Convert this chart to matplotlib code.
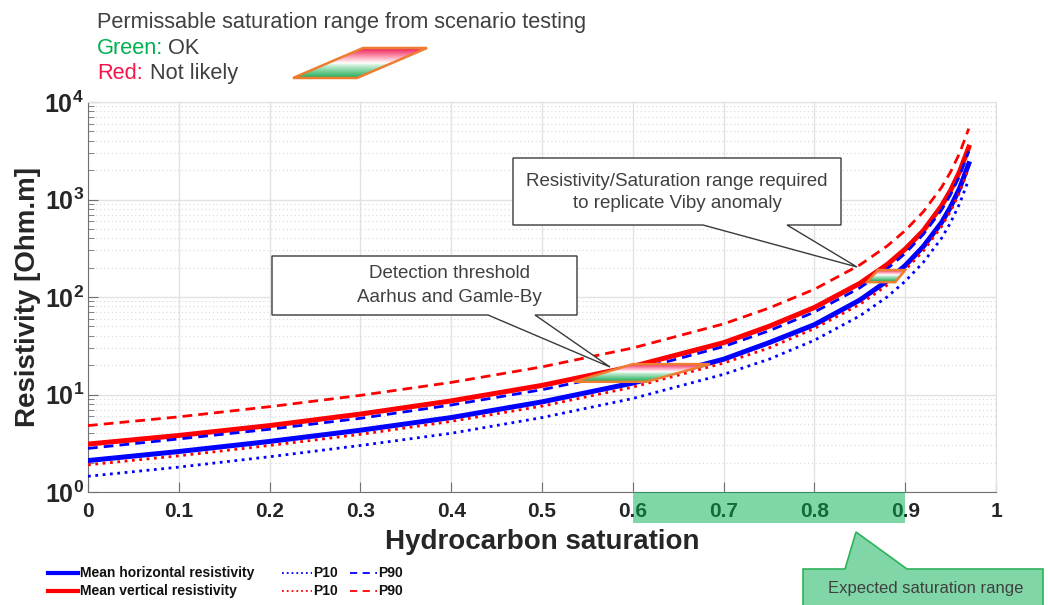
import numpy as np
import matplotlib
matplotlib.use("Agg")
import matplotlib.pyplot as plt
from matplotlib import transforms
from matplotlib.colors import LinearSegmentedColormap
from matplotlib.lines import Line2D
from matplotlib.patches import Polygon, Rectangle
from matplotlib.ticker import FixedLocator, FuncFormatter, LogLocator, NullFormatter

plt.rcParams["font.family"] = ["Liberation Sans", "DejaVu Sans"]
plt.rcParams["mathtext.fontset"] = "custom"
plt.rcParams["mathtext.rm"] = "Liberation Sans"
plt.rcParams["mathtext.bf"] = "Liberation Sans:bold"

# hydrocarbon saturation vs resistivity (Ohm.m)
saturation = [0, 0.1, 0.2, 0.3, 0.4, 0.5, 0.6, 0.7, 0.75, 0.8, 0.85, 0.88, 0.9, 0.92, 0.94, 0.95, 0.96, 0.97]
mean_h = [2.1, 2.6, 3.3, 4.3, 5.8, 8.4, 13.1, 23, 34, 52, 93, 146, 210, 330, 580, 840, 1310, 2330]
mean_v = [3.1, 3.8, 4.8, 6.3, 8.6, 12.4, 19.4, 34, 50, 78, 138, 215, 310, 480, 860, 1240, 1940, 3440]
p10_h = [1.45, 1.8, 2.3, 3.0, 4.0, 5.8, 9.1, 16.1, 23, 36, 64, 100, 145, 227, 400, 580, 910, 1610]
p90_h = [2.8, 3.5, 4.4, 5.7, 7.8, 11.2, 17.5, 31, 45, 70, 124, 194, 280, 440, 780, 1120, 1750, 3110]
p10_v = [1.9, 2.35, 3.0, 3.9, 5.3, 7.6, 11.9, 21, 30, 47.5, 84, 132, 190, 297, 528, 760, 1190, 2110]
p90_v = [4.8, 5.9, 7.5, 9.8, 13.3, 19.2, 30, 53, 77, 120, 213, 333, 480, 750, 1330, 1920, 3000, 5330]

x_ticks = [0, 0.1, 0.2, 0.3, 0.4, 0.5, 0.6, 0.7, 0.8, 0.9, 1]
x_tick_labels = ["0", "0.1", "0.2", "0.3", "0.4", "0.5", "0.6", "0.7", "0.8", "0.9", "1"]
y_ticks = [1, 10, 100, 1000, 10000]

# permissable ranges: (bottom-left S, bottom-right S, top-left S, top-right S, R bottom, R top)
detection_range = (0.535, 0.615, 0.60, 0.685, 13.5, 20.5)
viby_range = (0.858, 0.889, 0.870, 0.900, 142, 189)
expected_range = (0.6, 0.9)

W, H = 1048, 605
TXT = "#404040"
ORANGE = "#ed7d31"

grad_cmap = LinearSegmentedColormap.from_list(
    "okred", [(0, "#1faa55"), (0.4, "#bfeccf"), (0.5, "#ffffff"),
              (0.62, "#ffc6d4"), (1, "#ee1c55")])


def gradient_poly(axis, verts, bottom, top, transform, z):
    poly = Polygon(verts, closed=True, facecolor="none", edgecolor=ORANGE,
                   lw=1.8, transform=transform, zorder=z + 1)
    axis.add_patch(poly)
    xs = [v[0] for v in verts]
    grad = np.linspace(0, 1, 256).reshape(-1, 1)
    img = axis.imshow(grad, cmap=grad_cmap, origin="lower", aspect="auto",
                      extent=(min(xs), max(xs), bottom, top),
                      transform=transform, zorder=z, interpolation="bilinear")
    img.set_clip_path(poly)


fig = plt.figure(figsize=(W / 100, H / 100), dpi=100)
ax = fig.add_axes([88 / W, 1 - 492 / H, (996 - 88) / W, (492 - 102) / H])

ax.plot(saturation, mean_h, color="blue", lw=3.6, zorder=3)
ax.plot(saturation, mean_v, color="red", lw=3.6, zorder=3)
ax.plot(saturation, p10_h, color="blue", lw=2, ls=":", zorder=4)
ax.plot(saturation, p90_h, color="blue", lw=2, dashes=(3.5, 2.2), zorder=4)
ax.plot(saturation, p10_v, color="red", lw=2, ls=":", zorder=4)
ax.plot(saturation, p90_v, color="red", lw=2, dashes=(3.5, 2.2), zorder=4)

for bl, br, tl, tr, rb, rt in (detection_range, viby_range):
    gradient_poly(ax, [(bl, rb), (br, rb), (tr, rt), (tl, rt)], rb, rt, ax.transData, 6)

ax.set_yscale("log")
ax.set_xlim(0, 1)
ax.set_ylim(1, 1e4)
ax.xaxis.set_major_locator(FixedLocator(x_ticks))
ax.set_xticklabels(x_tick_labels)
ax.yaxis.set_major_locator(FixedLocator(y_ticks))
ax.yaxis.set_minor_locator(LogLocator(base=10, subs=np.arange(2, 10)))
ax.yaxis.set_minor_formatter(NullFormatter())
ax.yaxis.set_major_formatter(FuncFormatter(lambda v, p: r"$\mathbf{10^{%d}}$" % round(np.log10(v))))

ax.grid(which="major", color="#e2e2e2", lw=1, ls="-")
ax.grid(which="minor", axis="y", color="#dadada", lw=0.8, dashes=(1, 2.5))
ax.set_axisbelow(True)
ax.tick_params(axis="both", which="major", direction="in", length=7, color="#707070",
               labelcolor="#262626")
ax.tick_params(axis="x", labelsize=15, pad=7)
ax.tick_params(axis="y", labelsize=18, pad=3)
ax.tick_params(axis="y", which="minor", direction="in", length=4, color="#707070")
for lab in ax.get_xticklabels():
    lab.set_fontweight("bold")
for side in ("top", "right"):
    ax.spines[side].set_color("#e0e0e0")
for side in ("left", "bottom"):
    ax.spines[side].set_color("#707070")

ax.set_xlabel("Hydrocarbon saturation", fontsize=20, fontweight="bold", color="#262626", labelpad=6)
ax.set_ylabel("Resistivity [Ohm.m]", fontsize=20, fontweight="bold", color="#262626", labelpad=2)

# overlay in pixel coordinates for annotations
ov = fig.add_axes([0, 0, 1, 1], zorder=10)
ov.set_xlim(0, W)
ov.set_ylim(H, 0)
ov.axis("off")
ov.patch.set_alpha(0)

ov.text(97, 28, "Permissable saturation range from scenario testing", fontsize=15.7, color=TXT, va="baseline")
ov.text(97, 54, "Green:", fontsize=15.7, color="#00b050", va="baseline")
ov.text(168, 54, "OK", fontsize=15.7, color=TXT, va="baseline")
ov.text(97, 79, "Red:", fontsize=15.7, color="#f5144b", va="baseline")
ov.text(150, 79, "Not likely", fontsize=15.7, color=TXT, va="baseline")
gradient_poly(ov, [(293, 78), (357, 78), (427, 48), (363, 48)], 78, 48, ov.transData, 11)

# callouts
det_box = [(272, 256), (577, 256), (577, 315), (535, 315), (610, 367), (488, 315), (272, 315)]
ov.add_patch(Polygon(det_box, closed=True, facecolor="white", edgecolor="#3a3a3a", lw=1, zorder=12))
ov.text(449.5, 274, "Detection threshold", fontsize=13.5, color=TXT, ha="center", va="center", zorder=13)
ov.text(449.5, 297, "Aarhus and Gamle-By", fontsize=13.5, color=TXT, ha="center", va="center", zorder=13)

viby_box = [(513, 158), (841, 158), (841, 225), (787, 225), (857, 267), (703, 225), (513, 225)]
ov.add_patch(Polygon(viby_box, closed=True, facecolor="white", edgecolor="#3a3a3a", lw=1, zorder=12))
ov.text(677, 182, "Resistivity/Saturation range required", fontsize=13.5, color=TXT, ha="center", va="center", zorder=13)
ov.text(677, 204, "to replicate Viby anomaly", fontsize=13.5, color=TXT, ha="center", va="center", zorder=13)

# expected saturation range highlight on the x axis
blend = transforms.blended_transform_factory(ax.transData, ax.transAxes)
ov.add_patch(Rectangle((expected_range[0], 0), expected_range[1] - expected_range[0], -31 / 390,
                       transform=blend, facecolor="#00b050", alpha=0.5, lw=0, clip_on=False, zorder=12))
exp_box = [(803, 569), (845, 569), (856, 532), (907, 569), (1043, 569), (1043, 615), (803, 615)]
ov.add_patch(Polygon(exp_box, closed=True, facecolor="#80d6a6", edgecolor="#2db35a", lw=1.2,
                     clip_on=False, zorder=12))
ov.text(926, 589, "Expected saturation range", fontsize=12, color=TXT, ha="center", va="center", zorder=13)

# legend
legend_rows = [
    (573, "blue", "Mean horizontal resistivity"),
    (591, "red", "Mean vertical resistivity"),
]
for y, c, label in legend_rows:
    ov.add_line(Line2D([48, 78], [y, y], color=c, lw=3))
    ov.text(80, y, label, fontsize=10, fontweight="bold", color="#111111", va="center")
    ov.add_line(Line2D([282, 312], [y, y], color=c, lw=1.3, ls=":"))
    ov.text(313, y, "P10", fontsize=10, fontweight="bold", color="#111111", va="center")
    ov.add_line(Line2D([350, 377], [y, y], color=c, lw=1.3, dashes=(4, 3)))
    ov.text(378, y, "P90", fontsize=10, fontweight="bold", color="#111111", va="center")

fig.savefig("out.png", dpi=100)
